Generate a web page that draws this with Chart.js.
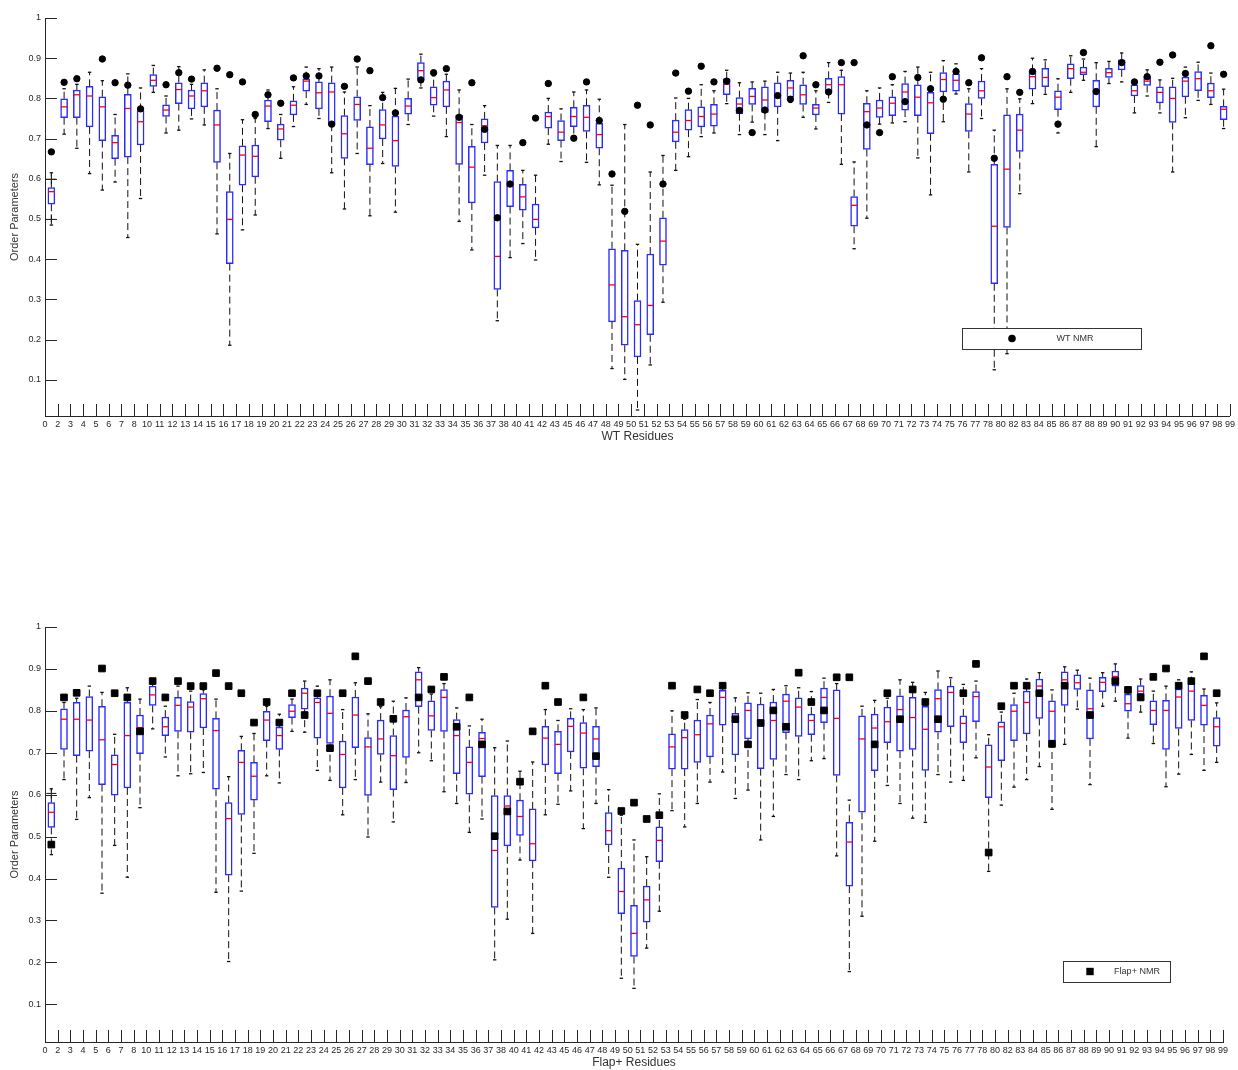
<!DOCTYPE html>
<html>
<head>
<meta charset="utf-8">
<title>Order Parameters</title>
<script src="https://cdn.jsdelivr.net/npm/chart.js@4.4.1/dist/chart.umd.min.js"></script>
<style>
    html, body { margin: 0; padding: 0; background: #fff; }
    body { position: relative; width: 1238px; height: 1070px; overflow: hidden; }
    canvas { position: absolute; left: 0; }
    #wtChart { top: 0; }
    #flapChart { top: 600px; }
</style>
</head>
<body>
<canvas id="wtChart" width="1238" height="452"></canvas>
<canvas id="flapChart" width="1238" height="470"></canvas>
<script>
// tick labels along the residue axis (one per tick, boxes sit between ticks)
const residueLabels = ["0","2","3","4","5","6","7","8","10","11","12","13","14","15","16","17","18","19","20","21","22","23","24","25","26","27","28","29","30","31","32","33","34","35","36","37","38","40","41","42","43","45","46","47","48","49","50","51","52","53","54","55","56","57","58","59","60","61","62","63","64","65","66","67","68","69","70","71","72","73","74","75","76","77","78","80","82","83","84","85","86","87","88","89","90","91","92","93","94","95","96","97","98","99"];

// WT simulation boxes
const wtHigh = [0.615,0.824,0.835,0.865,0.844,0.760,0.861,0.826,0.882,0.806, 0.879,0.835,0.871,0.824,0.663,0.747,0.750,0.821,0.760,0.829, 0.878,0.874,0.878,0.816,0.878,0.782,0.815,0.825,0.848,0.910, 0.856,0.860,0.821,0.735,0.782,0.683,0.683,0.621,0.609,0.800, 0.774,0.816,0.821,0.798,0.584,0.735,0.437,0.617,0.658,0.801, 0.800,0.834,0.819,0.870,0.839,0.841,0.843,0.865,0.863,0.865, 0.819,0.889,0.870,0.642,0.819,0.826,0.834,0.867,0.878,0.865, 0.894,0.886,0.824,0.874,0.721,0.824,0.799,0.900,0.896,0.849, 0.906,0.898,0.889,0.892,0.913,0.845,0.871,0.846,0.850,0.878, 0.890,0.863,0.823];
const wtQ3 = [0.578,0.799,0.821,0.830,0.804,0.708,0.810,0.770,0.859,0.784, 0.839,0.821,0.839,0.771,0.568,0.682,0.684,0.796,0.736,0.794, 0.849,0.841,0.839,0.757,0.804,0.729,0.772,0.756,0.800,0.889, 0.829,0.843,0.758,0.681,0.749,0.593,0.621,0.586,0.537,0.766, 0.745,0.778,0.783,0.738,0.426,0.422,0.297,0.413,0.503,0.746, 0.772,0.779,0.785,0.849,0.802,0.825,0.829,0.839,0.845,0.834, 0.785,0.850,0.854,0.556,0.788,0.796,0.804,0.837,0.834,0.815, 0.864,0.861,0.787,0.843,0.636,0.759,0.761,0.867,0.875,0.819, 0.886,0.878,0.845,0.875,0.896,0.834,0.854,0.829,0.829,0.853, 0.867,0.838,0.780];
const wtMed = [0.568,0.779,0.809,0.806,0.779,0.690,0.775,0.742,0.845,0.771, 0.822,0.806,0.819,0.734,0.499,0.659,0.656,0.781,0.724,0.783, 0.843,0.814,0.816,0.712,0.785,0.676,0.734,0.695,0.781,0.869, 0.802,0.821,0.740,0.629,0.732,0.407,0.581,0.555,0.499,0.755, 0.716,0.755,0.753,0.710,0.336,0.257,0.237,0.285,0.445,0.716, 0.745,0.755,0.761,0.835,0.786,0.805,0.796,0.811,0.826,0.809, 0.776,0.834,0.834,0.534,0.767,0.776,0.788,0.816,0.803,0.789, 0.847,0.845,0.761,0.819,0.482,0.624,0.721,0.854,0.852,0.803, 0.874,0.865,0.817,0.864,0.886,0.819,0.843,0.815,0.800,0.843, 0.849,0.819,0.773];
const wtQ1 = [0.537,0.752,0.752,0.729,0.695,0.650,0.654,0.684,0.830,0.755, 0.787,0.774,0.779,0.641,0.389,0.584,0.605,0.742,0.696,0.759, 0.818,0.774,0.736,0.651,0.745,0.635,0.699,0.631,0.761,0.847, 0.783,0.779,0.636,0.540,0.689,0.325,0.531,0.522,0.478,0.726, 0.695,0.730,0.718,0.676,0.244,0.186,0.157,0.212,0.385,0.692, 0.721,0.729,0.731,0.809,0.762,0.785,0.765,0.779,0.803,0.785, 0.759,0.817,0.761,0.482,0.673,0.753,0.757,0.771,0.757,0.712, 0.816,0.818,0.718,0.800,0.339,0.479,0.668,0.823,0.829,0.772, 0.849,0.859,0.779,0.852,0.871,0.806,0.832,0.789,0.740,0.804, 0.819,0.802,0.747];
const wtLow = [0.485,0.711,0.676,0.613,0.572,0.592,0.454,0.551,0.815,0.714, 0.721,0.749,0.734,0.463,0.186,0.473,0.510,0.725,0.651,0.730, 0.785,0.750,0.615,0.525,0.663,0.508,0.638,0.517,0.735,0.826, 0.756,0.705,0.494,0.423,0.609,0.247,0.404,0.439,0.398,0.686, 0.643,0.701,0.641,0.585,0.128,0.101,0.025,0.137,0.293,0.621, 0.655,0.705,0.714,0.787,0.710,0.741,0.710,0.695,0.790,0.753, 0.724,0.790,0.636,0.426,0.502,0.736,0.739,0.742,0.652,0.560, 0.742,0.811,0.617,0.750,0.125,0.165,0.563,0.787,0.810,0.714, 0.815,0.845,0.680,0.837,0.841,0.764,0.806,0.764,0.617,0.752, 0.795,0.785,0.725];
const wtNmr = [0.667,0.840,0.849,null,0.898,0.839,0.833,0.774,null,0.834, 0.864,0.848,null,0.875,0.859,0.841,0.760,0.809,0.788,0.851, 0.856,0.856,0.736,0.830,0.898,0.869,0.802,0.764,null,0.846, 0.864,0.874,0.753,0.839,0.723,0.503,0.587,0.690,0.751,0.837, null,0.701,0.841,0.745,0.612,0.519,0.783,0.734,0.587,0.863, 0.818,0.880,0.841,0.843,0.770,0.715,0.771,0.807,0.798,0.906, 0.834,0.816,0.889,0.889,0.734,0.715,0.854,0.792,0.852,0.824, 0.798,0.867,0.839,0.901,0.651,0.854,0.815,0.867,null,0.736, null,0.914,0.817,null,0.889,0.841,0.854,0.890,0.908,0.862, null,0.931,0.860];
const wtOutlierBox = [1, 1];
const wtOutlierVal = [0.599, 0.499];

// Flap+ simulation boxes
const flapHigh = [0.614,0.820,0.830,0.859,0.844,0.744,0.855,0.828,0.865,0.811, 0.859,0.847,0.850,0.828,0.643,0.739,0.746,0.811,0.792,0.828, 0.871,0.859,0.874,0.803,0.867,0.793,0.810,0.823,0.831,0.903, 0.840,0.865,0.807,0.764,0.780,0.712,0.728,0.656,0.678,0.803, 0.777,0.805,0.803,0.807,0.612,0.551,0.492,0.452,0.602,0.800, 0.780,0.827,0.820,0.856,0.831,0.843,0.842,0.851,0.860,0.855, 0.846,0.878,0.865,0.587,0.811,0.825,0.830,0.874,0.868,0.844, 0.895,0.879,0.863,0.871,0.743,0.797,0.842,0.876,0.891,0.850, 0.905,0.897,0.878,0.891,0.912,0.845,0.876,0.847,0.859,0.874, 0.893,0.852,0.819];
const flapQ3 = [0.581,0.805,0.820,0.834,0.811,0.695,0.820,0.790,0.859,0.785, 0.832,0.822,0.841,0.782,0.581,0.706,0.677,0.799,0.761,0.815, 0.854,0.831,0.835,0.728,0.833,0.736,0.778,0.741,0.802,0.893, 0.824,0.851,0.779,0.714,0.749,0.598,0.598,0.587,0.566,0.763, 0.751,0.782,0.772,0.763,0.557,0.425,0.336,0.382,0.523,0.745, 0.755,0.778,0.790,0.849,0.794,0.819,0.816,0.821,0.840,0.831, 0.792,0.854,0.850,0.534,0.788,0.792,0.809,0.836,0.832,0.811, 0.851,0.859,0.788,0.846,0.719,0.774,0.815,0.847,0.876,0.824, 0.893,0.886,0.850,0.880,0.895,0.840,0.860,0.824,0.825,0.852, 0.865,0.837,0.784];
const flapMed = [0.558,0.780,0.780,0.778,0.731,0.672,0.741,0.760,0.838,0.762, 0.813,0.809,0.829,0.753,0.543,0.677,0.644,0.778,0.741,0.799, 0.842,0.820,0.794,0.696,0.790,0.714,0.733,0.693,0.786,0.874, 0.788,0.832,0.741,0.677,0.734,0.467,0.573,0.548,0.483,0.735, 0.720,0.763,0.747,0.733,0.514,0.369,0.269,0.349,0.491,0.714, 0.736,0.743,0.769,0.832,0.786,0.801,0.771,0.777,0.823,0.809, 0.777,0.832,0.782,0.487,0.733,0.759,0.774,0.803,0.784,0.756, 0.829,0.844,0.770,0.834,0.666,0.762,0.799,0.820,0.859,0.799, 0.874,0.867,0.805,0.868,0.882,0.817,0.847,0.801,0.801,0.833, 0.847,0.813,0.762];
const flapQ1 = [0.522,0.708,0.693,0.704,0.624,0.599,0.616,0.698,0.813,0.741, 0.751,0.749,0.759,0.613,0.408,0.553,0.587,0.729,0.708,0.784, 0.804,0.735,0.722,0.616,0.712,0.598,0.696,0.612,0.689,0.810, 0.753,0.751,0.650,0.601,0.643,0.331,0.478,0.503,0.442,0.671, 0.650,0.702,0.663,0.667,0.480,0.316,0.214,0.296,0.440,0.661, 0.661,0.677,0.690,0.766,0.695,0.733,0.662,0.684,0.748,0.739, 0.743,0.772,0.646,0.382,0.558,0.657,0.724,0.704,0.708,0.658, 0.749,0.762,0.724,0.774,0.593,0.681,0.729,0.745,0.782,0.728, 0.813,0.851,0.733,0.846,0.859,0.799,0.840,0.767,0.708,0.758, 0.777,0.766,0.716];
const flapLow = [0.457,0.636,0.541,0.593,0.365,0.479,0.403,0.569,0.757,0.690, 0.645,0.650,0.653,0.367,0.202,0.370,0.460,0.645,0.628,0.751, 0.749,0.658,0.634,0.552,0.636,0.499,0.630,0.535,0.629,0.700, 0.681,0.607,0.579,0.510,0.542,0.206,0.303,0.444,0.269,0.552, 0.577,0.609,0.519,0.579,0.403,0.162,0.138,0.234,0.322,0.562, 0.523,0.579,0.630,0.654,0.591,0.611,0.492,0.548,0.648,0.636, 0.681,0.686,0.454,0.178,0.310,0.489,0.622,0.579,0.544,0.534, 0.648,0.630,0.634,0.688,0.417,0.575,0.618,0.636,0.667,0.565, 0.720,0.804,0.624,0.811,0.823,0.735,0.797,0.722,0.619,0.649, 0.696,0.658,0.677];
const flapNmr = [0.481,0.832,0.843,null,0.901,0.842,0.832,0.751,0.871,0.832, 0.871,0.859,0.859,0.890,0.859,0.842,0.772,0.821,0.772,0.842, 0.790,0.842,0.711,0.842,0.930,0.871,0.821,0.781,null,0.832, 0.851,0.881,0.762,0.832,0.720,0.501,0.560,0.631,0.751,0.860, 0.821,null,0.832,0.692,null,0.561,0.581,0.542,0.551,0.860, 0.790,0.851,0.842,0.860,0.780,0.720,0.771,0.801,0.762,0.891, 0.821,0.801,0.880,0.880,null,0.720,0.842,0.780,0.851,0.821, 0.780,null,0.842,0.912,0.462,0.811,0.860,0.860,0.842,0.721, 0.860,null,0.790,null,0.871,0.850,0.832,0.881,0.901,0.860, 0.871,0.930,0.842];
const flapOutlierBox = [1];
const flapOutlierVal = [0.603];

const FONT = "'Liberation Sans', Arial, Helvetica, sans-serif";

// matlab style tick marks pointing into the plot
let inwardTicks = {
    id: "inwardTicks",
    afterDatasetsDraw: (chart) => {
        var ctx = chart.ctx;
        var xs = chart.scales.x;
        var ys = chart.scales.y;
        var area = chart.chartArea;
        ctx.save();
        ctx.strokeStyle = "#262626";
        ctx.lineWidth = 1;
        ctx.beginPath();
        xs.ticks.forEach((t) => {
            if (t.value < 0.5) return;
            var px = Math.round(xs.getPixelForValue(t.value)) + 0.5;
            ctx.moveTo(px, area.bottom);
            ctx.lineTo(px, area.bottom - 12);
        });
        ys.ticks.forEach((t) => {
            if (t.value < 0.05) return;
            var py = Math.round(ys.getPixelForValue(t.value)) + 0.5;
            ctx.moveTo(area.left, py);
            ctx.lineTo(area.left + 12, py);
        });
        ctx.stroke();
        ctx.restore();
    },
};

// boxed legend inside the plot, as in the original figure
let nmrLegend = {
    id: "nmrLegend",
    afterDraw: (chart, args, opts) => {
        var ctx = chart.ctx;
        var cy = opts.top + opts.height / 2;
        ctx.save();
        ctx.fillStyle = "#ffffff";
        ctx.fillRect(opts.left, opts.top, opts.width, opts.height);
        ctx.strokeStyle = "#333333";
        ctx.lineWidth = 1;
        ctx.strokeRect(opts.left + 0.5, opts.top + 0.5, opts.width, opts.height);
        ctx.fillStyle = "#000000";
        if (opts.marker === "rect") {
            ctx.fillRect(opts.markerX - 3.7, cy - 3.7, 7.4, 7.4);
        } else {
            ctx.beginPath();
            ctx.arc(opts.markerX, cy, 3.8, 0, Math.PI * 2);
            ctx.fill();
        }
        ctx.font = "9px " + FONT;
        ctx.textAlign = "center";
        ctx.textBaseline = "middle";
        ctx.fillStyle = "#333333";
        ctx.fillText(opts.text, opts.textX, cy);
        ctx.restore();
    },
};

let drawPanel = (id, low, q1, med, q3, high, nmr, outBox, outVal, look) => {
    var ctx = document.getElementById(id).getContext("2d");
    var boxes = [];
    var medians = [];
    var caps = [];
    var whiskers = [];
    var marks = [];
    var outliers = [];
    for (var i = 0; i < med.length; i++) {
        var x = i + 0.5;
        boxes.push({ x: x, y: [q1[i], q3[i]] });
        medians.push({ x: x, y: med[i] });
        caps.push({ x: x, y: high[i] });
        caps.push({ x: x, y: low[i] });
        whiskers.push({ x: x, y: q3[i] }, { x: x, y: high[i] }, { x: x, y: null });
        whiskers.push({ x: x, y: q1[i] }, { x: x, y: low[i] }, { x: x, y: null });
        if (nmr[i] !== null) {
            marks.push({ x: x, y: nmr[i] });
        }
    }
    for (var j = 0; j < outBox.length; j++) {
        outliers.push({ x: outBox[j] - 0.5, y: outVal[j] });
    }

    return new Chart(ctx, {
        type: "bar",
        data: {
            datasets: [
                {
                    type: "scatter",
                    label: look.legendText,
                    data: marks,
                    pointStyle: look.marker,
                    pointRadius: look.markerRadius,
                    pointBackgroundColor: "#000000",
                    pointBorderColor: "#000000",
                    pointBorderWidth: 1,
                    order: 0,
                },
                {
                    type: "scatter",
                    label: "outliers",
                    data: outliers,
                    pointStyle: "cross",
                    pointRadius: 5,
                    pointBorderColor: "#111111",
                    pointBorderWidth: 1,
                    order: 1,
                },
                {
                    type: "scatter",
                    label: "median",
                    data: medians,
                    pointStyle: "line",
                    pointRadius: 3.2,
                    pointBorderColor: "#ff0000",
                    pointBorderWidth: 1.3,
                    order: 2,
                },
                {
                    type: "scatter",
                    label: "caps",
                    data: caps,
                    pointStyle: "line",
                    pointRadius: 1.7,
                    pointBorderColor: "#111111",
                    pointBorderWidth: 1.3,
                    order: 3,
                },
                {
                    type: "bar",
                    label: "box",
                    data: boxes,
                    backgroundColor: "#ffffff",
                    borderColor: "#2a2aff",
                    borderWidth: 1.5,
                    borderSkipped: false,
                    barThickness: 7,
                    order: 4,
                },
                {
                    type: "line",
                    label: "whiskers",
                    data: whiskers,
                    borderColor: "#111111",
                    borderWidth: 1,
                    borderDash: [7, 4],
                    pointRadius: 0,
                    spanGaps: false,
                    fill: false,
                    order: 5,
                },
            ],
        },
        options: {
            responsive: false,
            animation: false,
            devicePixelRatio: 1,
            events: [],
            layout: {
                padding: { top: look.padTop, right: look.padRight, bottom: 0, left: 0 },
            },
            plugins: {
                legend: { display: false },
                tooltip: { enabled: false },
                nmrLegend: look.legend,
            },
            scales: {
                x: {
                    type: "linear",
                    min: 0,
                    max: 93,
                    offset: false,
                    grid: { display: false, drawTicks: false },
                    border: { display: true, color: "#262626", width: 1 },
                    ticks: {
                        stepSize: 1,
                        autoSkip: false,
                        maxRotation: 0,
                        minRotation: 0,
                        padding: 3,
                        color: "#262626",
                        font: { size: 9, family: FONT },
                        callback: (value) => residueLabels[Math.round(value)],
                    },
                    title: {
                        display: true,
                        text: look.xTitle,
                        color: "#333333",
                        font: { size: 12, family: FONT },
                        padding: { top: 0, bottom: look.xTitlePad },
                    },
                    afterFit: (scale) => {
                        scale.height = look.xHeight;
                    },
                },
                y: {
                    min: 0.01,
                    max: 1,
                    grid: { display: false, drawTicks: false },
                    border: { display: true, color: "#262626", width: 1 },
                    ticks: {
                        stepSize: 0.1,
                        includeBounds: false,
                        padding: 4,
                        color: "#262626",
                        font: { size: 9, family: FONT },
                        callback: (value) => String(Number(value.toFixed(1))),
                    },
                    title: {
                        display: true,
                        text: "Order Parameters",
                        color: "#333333",
                        font: { size: 11, family: FONT },
                        padding: { top: 8, bottom: 0 },
                    },
                    afterFit: (scale) => {
                        scale.width = 45;
                    },
                },
            },
        },
        plugins: [inwardTicks, nmrLegend],
    });
};

drawPanel("wtChart", wtLow, wtQ1, wtMed, wtQ3, wtHigh, wtNmr, wtOutlierBox, wtOutlierVal, {
    xTitle: "WT Residues",
    legendText: "WT NMR",
    marker: "circle",
    markerRadius: 3.2,
    padTop: 18,
    padRight: 6,
    xHeight: 36,
    xTitlePad: 8,
    legend: { left: 962, top: 328, width: 179, height: 21, marker: "circle", markerX: 1012, textX: 1075, text: "WT NMR" },
});

drawPanel("flapChart", flapLow, flapQ1, flapMed, flapQ3, flapHigh, flapNmr, flapOutlierBox, flapOutlierVal, {
    xTitle: "Flap+ Residues",
    legendText: "Flap+ NMR",
    marker: "rect",
    markerRadius: 4.7,
    padTop: 27,
    padRight: 15,
    xHeight: 28,
    xTitlePad: 0,
    legend: { left: 1063, top: 361, width: 107, height: 21, marker: "rect", markerX: 1090, textX: 1137, text: "Flap+ NMR" },
});
</script>
</body>
</html>
